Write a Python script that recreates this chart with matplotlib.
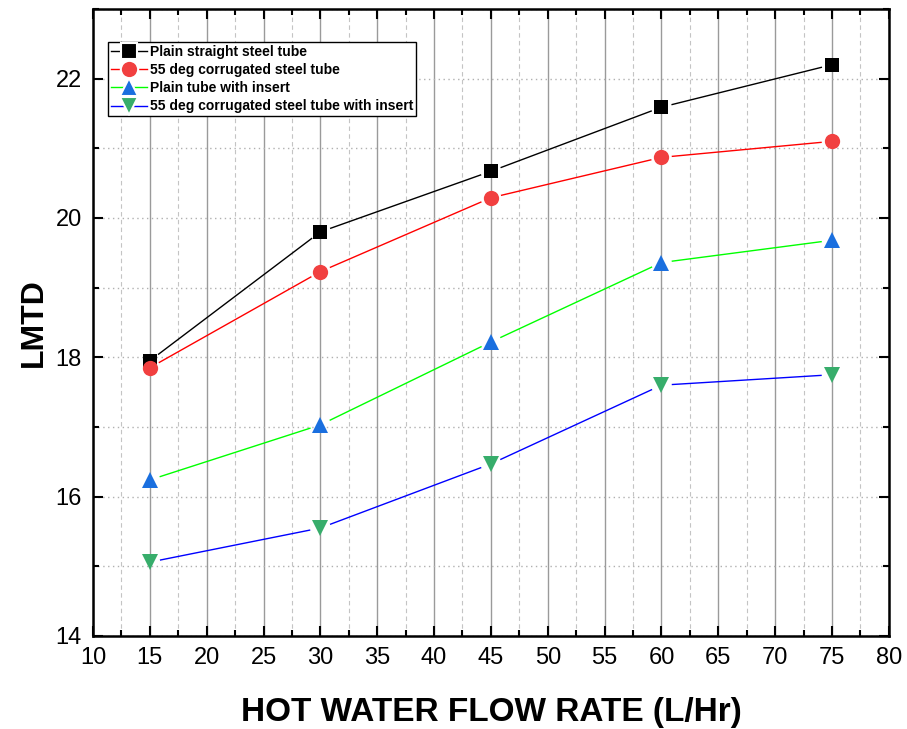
import matplotlib.pyplot as plt
from matplotlib.lines import Line2D
from matplotlib.ticker import MultipleLocator
import numpy as np

plt.rcParams['font.family'] = ['Liberation Sans', 'DejaVu Sans']

flow = [15, 30, 45, 60, 75]
plain = [17.95, 19.80, 20.67, 21.59, 22.20]
corrugated = [17.85, 19.23, 20.29, 20.87, 21.10]
plain_insert = [16.24, 17.03, 18.22, 19.36, 19.68]
corrugated_insert = [15.06, 15.55, 16.47, 17.60, 17.75]

labels = ['Plain straight steel tube', '55 deg corrugated steel tube',
          'Plain tube with insert', '55 deg corrugated steel tube with insert']
series = [plain, corrugated, plain_insert, corrugated_insert]
markers = ['s', 'o', '^', 'v']
marker_colors = ['black', '#F14040', '#1A6FDF', '#37AD6B']
line_colors = ['black', '#FF0000', '#00FF00', '#0000FF']
marker_sizes = [10, 11, 12, 12]

fig = plt.figure(figsize=(9.07, 7.29), dpi=100)
ax = fig.add_axes([0.1025, 0.1276, 0.8775, 0.8601])
ax.set_xlim(10, 80)
ax.set_ylim(14, 23)

ax.xaxis.set_major_locator(MultipleLocator(5))
ax.xaxis.set_minor_locator(MultipleLocator(2.5))
ax.yaxis.set_major_locator(MultipleLocator(2))
ax.yaxis.set_minor_locator(MultipleLocator(1))
ax.grid(True, which='major', axis='x', color='#9a9a9a', linestyle='-', linewidth=1.0)
ax.grid(True, which='minor', axis='x', color='#c4c4c4', linestyle=(0, (4, 3)), linewidth=0.8)
ax.grid(True, which='both', axis='y', color='#b0b0b0', linestyle=(0, (1, 2.5)), linewidth=1.0)
ax.set_axisbelow(True)

ax.tick_params(which='both', direction='in', top=True, right=True, width=1.5)
ax.tick_params(which='major', length=7, labelsize=17, pad=8)
ax.tick_params(which='minor', length=4)
for s in ax.spines.values():
    s.set_linewidth(1.8)


def gapped_line(x, y, gap=11):
    # shorten each segment in pixel space so the line stops short of the markers
    pts = ax.transData.transform(np.column_stack([x, y]))
    out = []
    for p, q in zip(pts[:-1], pts[1:]):
        d = q - p
        u = d / np.hypot(*d)
        out += [p + u * gap, q - u * gap, [np.nan, np.nan]]
    out = ax.transData.inverted().transform(np.array(out))
    return out[:, 0], out[:, 1]


handles = []
for ys, m, mc, lc, ms, lab in zip(series, markers, marker_colors, line_colors, marker_sizes, labels):
    gx, gy = gapped_line(flow, ys)
    ax.plot(gx, gy, color=lc, linewidth=1.0, zorder=3)
    ax.plot(flow, ys, linestyle='none', marker=m, markersize=ms, color=mc,
            markeredgewidth=0, zorder=4)
    handles.append(Line2D([], [], color=lc, linewidth=1.0, marker=m, markersize=ms + 1.5,
                          markerfacecolor=mc, markeredgecolor='white', markeredgewidth=1.5))

leg = ax.legend(handles, labels, loc='upper left', bbox_to_anchor=(0.019, 0.947),
                prop={'weight': 'bold', 'size': 10}, frameon=True, fancybox=False,
                edgecolor='black', framealpha=1, borderpad=0.2, labelspacing=0.3,
                handlelength=2.6, handletextpad=0.2, borderaxespad=0)
leg.get_frame().set_linewidth(1.0)

ax.set_xlabel('HOT WATER FLOW RATE (L/Hr)', fontsize=24, fontweight='bold', labelpad=20)
ax.set_ylabel('LMTD', fontsize=23, fontweight='bold', labelpad=5)

fig.savefig('out.png', dpi=100)
